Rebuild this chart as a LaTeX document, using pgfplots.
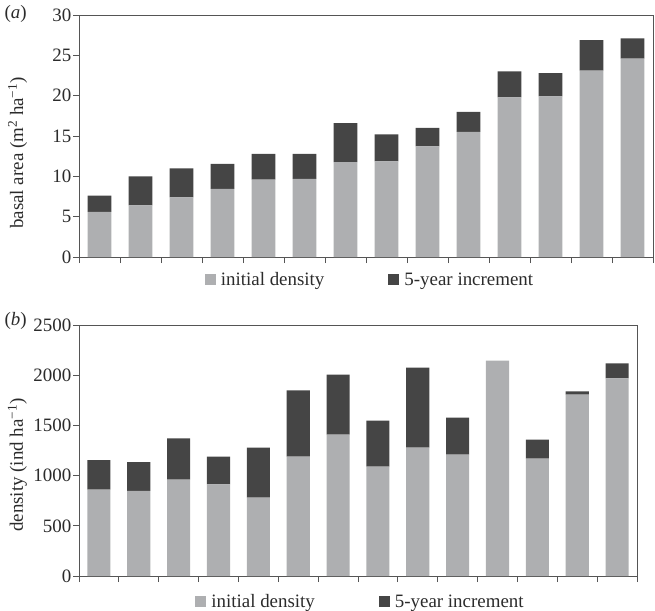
\documentclass[border=0pt]{standalone}
\usepackage{fontspec}
\setmainfont{Liberation Serif}
\usepackage{pgfplots}
\pgfplotsset{compat=1.18}
\definecolor{barlight}{HTML}{AEAFB1}
\definecolor{bardark}{HTML}{454545}
\definecolor{axisgray}{HTML}{555555}
\definecolor{txt}{HTML}{2B2B2B}
\newcommand{\fs}{\fontsize{19}{22}\selectfont}
\pgfplotsset{
  mystyle/.style={
    scale only axis,
    ybar stacked,
    bar width=0.58,
    xmin=-0.5, xmax=13.5,
    xtick={-0.5,0.5,1.5,2.5,3.5,4.5,5.5,6.5,7.5,8.5,9.5,10.5,11.5,12.5,13.5},
    xticklabels={},
    tick align=outside,
    xtick pos=bottom, ytick pos=left,
    major tick length=6bp,
    axis line style={axisgray, line width=0.9bp},
    every tick/.style={axisgray, line width=0.9bp},
    tick label style={font=\fs, text=txt, inner sep=1.5bp},
    /pgf/number format/assume math mode=true,
    /pgf/number format/1000 sep={},
    label style={font=\fs, text=txt},
    legend columns=2,
    legend style={draw=none, fill=none, font=\fs, text=txt,
      /tikz/every odd column/.append style={column sep=3bp},
      /tikz/every even column/.append style={column sep=62bp}},
  },
  sq/.style={legend image code/.code={\fill[##1] (0bp,-5.5bp) rectangle (11bp,5.5bp);}},
}
\begin{document}
\begin{tikzpicture}
\useasboundingbox (0,0) rectangle (655bp,-611bp);
\node[font=\fs, text=txt, anchor=base west] at (1bp,-18bp) {(\textit{a})};
\node[font=\fs, text=txt, anchor=base west] at (1bp,-325bp) {(\textit{b})};

\begin{axis}[mystyle,
  at={(79bp,-257bp)}, anchor=south west,
  width=574bp, height=242bp,
  ymin=0, ymax=30, ytick={0,5,10,15,20,25,30},
  every axis y label/.style={at={(axis description cs:-0.1071,0.43)}, rotate=90, anchor=center, font=\fs, text=txt},
  ylabel={basal area (m\textsuperscript{2} ha\textsuperscript{−1})},
  legend style={at={(axis description cs:0.507,0)}, anchor=center, yshift=-22.5bp},
]
\addplot[fill=barlight, draw=none, sq] coordinates {
(0,5.6) (1,6.4) (2,7.4) (3,8.45) (4,9.6) (5,9.7) (6,11.75) (7,11.85) (8,13.7) (9,15.5) (10,19.8) (11,19.9) (12,23.1) (13,24.6)};
\addplot[fill=bardark, draw=none, sq] coordinates {
(0,2.0) (1,3.6) (2,3.6) (3,3.1) (4,3.2) (5,3.1) (6,4.85) (7,3.35) (8,2.3) (9,2.5) (10,3.2) (11,2.9) (12,3.8) (13,2.5)};
\legend{initial density, 5-year increment}
\end{axis}

\begin{axis}[mystyle,
  at={(79bp,-576bp)}, anchor=south west,
  width=558bp, height=251bp,
  ymin=0, ymax=2500, ytick={0,500,1000,1500,2000,2500},
  every axis y label/.style={at={(axis description cs:-0.1102,0.442)}, rotate=90, anchor=center, font=\fs, text=txt},
  ylabel={density (ind ha\textsuperscript{−1})},
  legend style={at={(axis description cs:0.5045,0)}, anchor=center, yshift=-25.5bp},
]
\addplot[fill=barlight, draw=none, sq] coordinates {
(0,861) (1,847) (2,960) (3,913) (4,781) (5,1189) (6,1408) (7,1090) (8,1279) (9,1209) (10,2145) (11,1169) (12,1807) (13,1969)};
\addplot[fill=bardark, draw=none, sq] coordinates {
(0,294) (1,288) (2,412) (3,276) (4,498) (5,660) (6,598) (7,458) (8,797) (9,369) (10,0) (11,190) (12,33) (13,150)};
\legend{initial density, 5-year increment}
\end{axis}
\end{tikzpicture}
\end{document}
